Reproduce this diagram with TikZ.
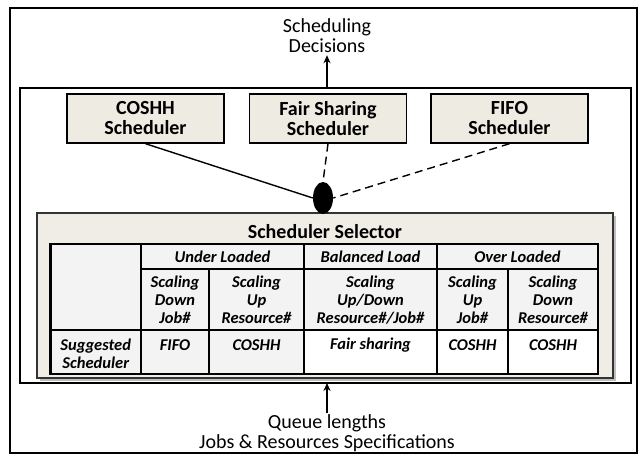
\documentclass[tikz,border=0pt]{standalone}
\usepackage{fontspec}
\setmainfont{Carlito}
\usetikzlibrary{arrows.meta,shapes.geometric}
\definecolor{boxbg}{HTML}{EEEBE3}
\definecolor{selbg}{HTML}{F0EDE7}
\definecolor{cellgrey}{HTML}{F3F3F3}
\definecolor{selline}{HTML}{333333}
\tikzset{
  frame/.style={draw=black,line width=1.4pt},
  bigtext/.style={font=\fontsize{20}{20}\selectfont,align=center,inner sep=2pt},
  schedbox/.style={draw=black,line width=1.4pt,fill=boxbg,minimum width=157pt,minimum height=49pt,
    font=\bfseries\fontsize{20}{20}\selectfont,align=center,inner sep=0pt},
  cell/.style={font=\bfseries\itshape\fontsize{16.5}{18}\selectfont,align=center,inner sep=0pt},
  link/.style={line width=1.4pt},
  dlink/.style={line width=1.4pt,dash pattern=on 8pt off 5pt},
  arr/.style={line width=1.4pt,-{Stealth[length=8pt,width=7pt]}},
  grid/.style={line width=2pt,line cap=rect}
}
\begin{document}
\begin{tikzpicture}[x=1pt,y=-1pt]
\useasboundingbox (0,0) rectangle (642,455);
% frames
\draw[frame] (10,8) rectangle (637,453);
\draw[frame] (20,88) rectangle (631,383);
\coordinate (innertop) at (327,88);
\coordinate (innerbot) at (327,383);
% texts outside
\node[bigtext] (dec) at (327,36) {Scheduling\\Decisions};
\node[bigtext,font=\fontsize{20}{19.5}\selectfont] (queue) at (327,433) {Queue lengths\\Jobs \& Resources Specifications};
\draw[arr] (innertop) -- (dec.south);
\draw[arr] (queue.north) -- (innerbot);
% scheduler boxes
\node[schedbox] (coshh) at (145.5,118.5) {COSHH\\Scheduler};
\node[schedbox] (fair) at (328,118.5) {Fair Sharing\\Scheduler};
\node[schedbox] (fifo) at (509.5,118.5) {FIFO\\Scheduler};
% selector box
\fill[black!25] (39.5,215.5) rectangle (615.5,380.5);
\draw[draw=selline,line width=1.2pt,fill=selbg] (37,213) rectangle (613,378);
\node[font=\bfseries\fontsize{20}{20}\selectfont,inner sep=0pt] (seltitle) at (325,232) {Scheduler Selector};
% ellipse
\node[ellipse,fill=black,minimum width=20pt,minimum height=32pt,inner sep=0pt] (ell) at (323,198) {};
\draw[link] (coshh.south) -- (ell.west);
\draw[dlink] (fair.south) -- (ell.north);
\draw[dlink] (fifo.south) -- (ell.east);
% table cells
\fill[cellgrey] (50.5,244) rectangle (598,330);
\fill[cellgrey] (50.5,330) rectangle (304,374);
\fill[white] (304,330) rectangle (598,374);
% grid lines
\draw[grid] (141,244) -- (141,374);
\draw[grid] (304,244) -- (304,374);
\draw[grid] (437,244) -- (437,374);
\draw[grid] (209,269) -- (209,374);
\draw[grid] (508,269) -- (508,374);
\draw[grid] (141,269) -- (598,269);
\draw[grid] (50.5,330) -- (598,330);
\draw[line width=2.6pt] (50.5,244) rectangle (598,374);
% header texts
\node[cell] (ul) at (222.5,257) {Under Loaded};
\node[cell] (bl) at (370.5,257) {Balanced Load};
\node[cell] (ol) at (517.5,257) {Over Loaded};
\node[cell] (c1) at (175,300) {Scaling\\Down\\Job\#};
\node[cell] (c2) at (256.5,300) {Scaling\\Up\\Resource\#};
\node[cell] (c3) at (370.5,300) {Scaling\\Up/Down\\Resource\#/Job\#};
\node[cell] (c4) at (472.5,300) {Scaling\\Up\\Job\#};
\node[cell] (c5) at (553,300) {Scaling\\Down\\Resource\#};
% suggested row
\node[cell] (sug) at (95.75,354) {Suggested\\Scheduler};
\node[cell] (s1) at (175,345) {FIFO};
\node[cell] (s2) at (256.5,345) {COSHH};
\node[cell] (s3) at (370.5,345) {Fair sharing};
\node[cell] (s4) at (472.5,345) {COSHH};
\node[cell] (s5) at (553,345) {COSHH};
\end{tikzpicture}
\end{document}
